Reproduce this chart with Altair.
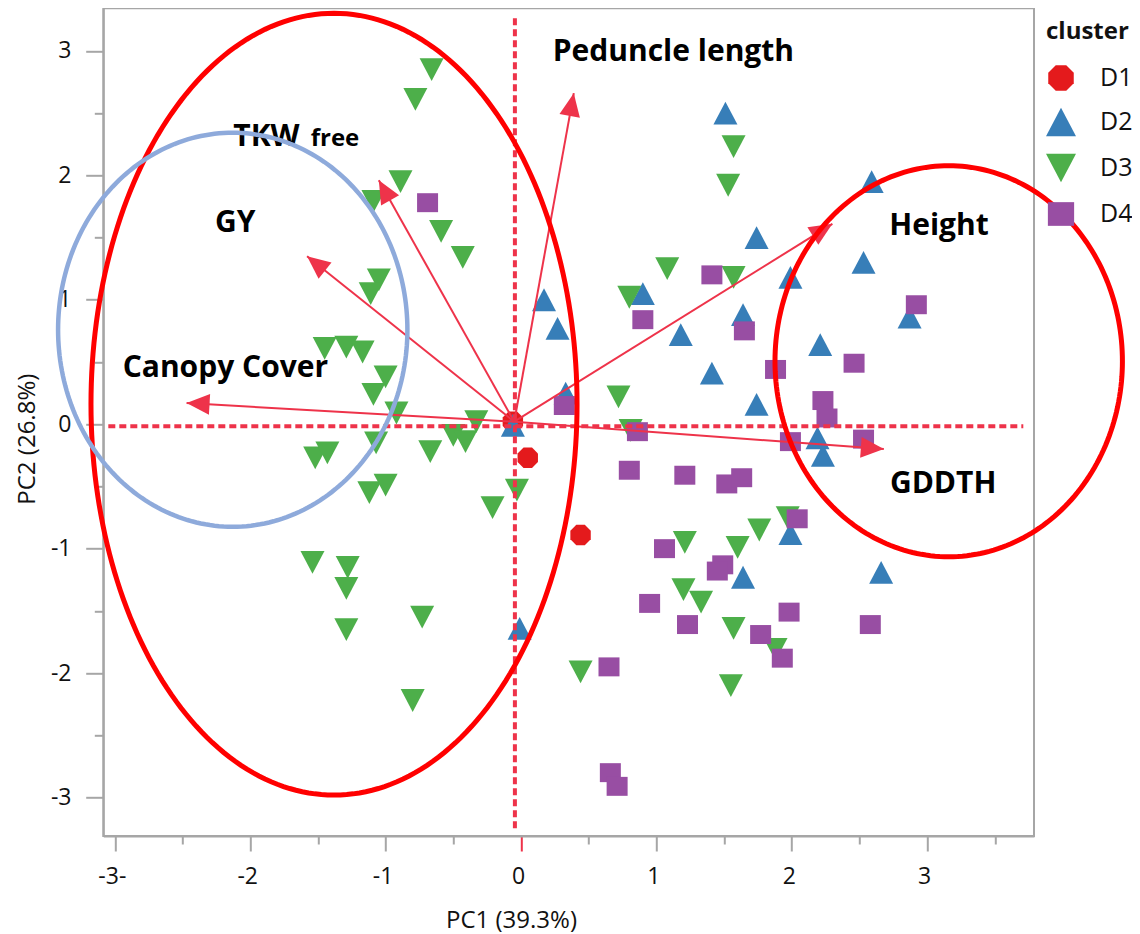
import math
import altair as alt
import numpy as np
import pandas as pd

# ---------------- data ----------------
clusters = ["D1", "D2", "D3", "D4"]

d1_pc1 = [-0.06, 0.05, 0.44]
d1_pc2 = [0.02, -0.27, -0.89]

d2_pc1 = [1.51, 2.59, 1.74, 2.53, 1.99, 0.17, 0.27, 0.90, 1.18, 1.64, 2.87,
          2.21, 1.41, 1.74, 0.33, -0.06, 2.19, 2.23, 1.99, 1.64, 2.66, -0.01]
d2_pc2 = [2.50, 1.95, 1.50, 1.30, 1.18, 1.00, 0.77, 1.05, 0.72, 0.88, 0.86,
          0.64, 0.41, 0.16, 0.25, -0.01, -0.11, -0.25, -0.88, -1.23, -1.19, -1.64]

d3_pc1 = [-0.66, -0.78, -0.89, -1.09, -0.59, -0.43, -1.05, -1.11, -1.45, -1.29,
          -1.17, -1.00, -1.09, -0.92, -1.07, -1.52, -1.43, -1.12, -1.00, -1.54,
          -1.28, -1.29, -1.29, -0.73, -0.80, -0.33, -0.50, -0.41, -0.67, -0.03,
          -0.21, 1.57, 1.53, 1.08, 0.80, 1.57, 0.72, 0.81, 1.21, 1.60,
          1.76, 1.97, 0.44, 1.20, 1.33, 1.57, 1.88, 1.55]
d3_pc2 = [2.85, 2.61, 1.95, 1.79, 1.55, 1.34, 1.16, 1.05, 0.61, 0.62,
          0.58, 0.38, 0.24, 0.09, -0.15, -0.27, -0.23, -0.55, -0.49, -1.11,
          -1.15, -1.32, -1.65, -1.55, -2.22, 0.02, -0.09, -0.14, -0.22, -0.53,
          -0.67, 2.23, 1.92, 1.25, 1.02, 1.18, 0.22, -0.05, -0.95, -0.99,
          -0.85, -0.75, -1.99, -1.33, -1.43, -1.64, -1.81, -2.10]

d4_pc1 = [-0.69, 1.41, 0.90, 1.65, 1.88, 2.46, 2.23, 2.26, 2.92, 0.32,
          0.86, 1.99, 2.53, 0.80, 1.21, 1.52, 1.63, 2.04, 1.06, 1.49,
          1.45, 0.95, 1.98, 1.23, 1.77, 2.58, 1.93, 0.65, 0.66, 0.71]
d4_pc2 = [1.78, 1.20, 0.84, 0.75, 0.44, 0.49, 0.19, 0.05, 0.96, 0.15,
          -0.06, -0.14, -0.12, -0.37, -0.41, -0.48, -0.43, -0.76, -1.00, -1.13,
          -1.18, -1.44, -1.51, -1.61, -1.69, -1.61, -1.88, -1.95, -2.80, -2.91]

# loading vectors (arrow tips) and their origin
load_names = ["Peduncle length", "TKW free", "GY", "Canopy Cover", "Height", "GDDTH"]
load_pc1 = [0.39, -1.05, -1.58, -2.47, 2.30, 2.68]
load_pc2 = [2.66, 1.96, 1.35, 0.17, 1.61, -0.20]
origin_pc1 = -0.05
origin_pc2 = 0.02

# variable labels (left edge / baseline positions in data units)
label_text = ["Peduncle length", "TKW", "GY", "Canopy Cover", "Height", "GDDTH"]
label_pc1 = [0.234, -2.125, -2.260, -2.942, 2.720, 2.725]
label_pc2 = [2.919, 2.236, 1.547, 0.377, 1.521, -0.555]
sub_text = ["free"]
sub_pc1 = [-1.553]
sub_pc2 = [2.236]

# grouping ellipses: centre and radii
ell_name = ["left", "right", "blue"]
ell_cx = [-1.381, 3.159, -2.129]
ell_cy = [0.161, 0.506, 0.759]
ell_rx = [1.795, 1.283, 1.290]
ell_ry = [3.141, 1.571, 1.583]

# dotted reference lines through the origin
ref_x1 = [-0.045, -3.048]
ref_x2 = [-0.045, 3.710]
ref_y1 = [3.262, -0.017]
ref_y2 = [-3.275, -0.017]

# ---------------- layout / style ----------------
X_DOM = [-3.085, 3.789]
Y_DOM = [-3.309, 3.342]
W, H = 930.7, 827.7
ARROW = "#EE334A"
GRAY = "#A6A6A6"
FONT = "Open Sans"
colors = ["#E41A1C", "#377EB8", "#4DAF4A", "#984EA3"]
octagon = ("M0.85,0.352L0.352,0.85L-0.352,0.85L-0.85,0.352L-0.85,-0.352"
           "L-0.352,-0.85L0.352,-0.85L0.85,-0.352Z")
shapes = [octagon,
          "M0,-0.95L1,0.95L-1,0.95Z",
          "M-1,-0.95L1,-0.95L0,0.95Z",
          "M-0.875,-0.79L0.875,-0.79L0.875,0.79L-0.875,0.79Z"]

# ---------------- tables ----------------
rows = []
for c, xs_, ys_ in zip(clusters, [d1_pc1, d2_pc1, d3_pc1, d4_pc1],
                       [d1_pc2, d2_pc2, d3_pc2, d4_pc2]):
    for a, b in zip(xs_, ys_):
        rows.append({"pc1": a, "pc2": b, "cluster": c})
df_pts = pd.DataFrame(rows)

sx = W / (X_DOM[1] - X_DOM[0])
sy = H / (Y_DOM[1] - Y_DOM[0])
df_load = pd.DataFrame({"name": load_names, "pc1": load_pc1, "pc2": load_pc2})
df_load["ox"] = origin_pc1
df_load["oy"] = origin_pc2
df_load["ang"] = [
    math.degrees(math.atan2((tx - origin_pc1) * sx, (ty - origin_pc2) * sy)) % 360
    for tx, ty in zip(load_pc1, load_pc2)
]

df_lab = pd.DataFrame({"label": label_text, "pc1": label_pc1, "pc2": label_pc2})
df_sub = pd.DataFrame({"label": sub_text, "pc1": sub_pc1, "pc2": sub_pc2})

t = np.linspace(0, 2 * np.pi, 241)
erows = []
for n, cx, cy, rx, ry in zip(ell_name, ell_cx, ell_cy, ell_rx, ell_ry):
    for i, tt in enumerate(t):
        erows.append({"grp": n, "ord": i,
                      "pc1": cx + rx * np.cos(tt), "pc2": cy + ry * np.sin(tt)})
df_ell = pd.DataFrame(erows)

df_ref = pd.DataFrame({"x1": ref_x1, "x2": ref_x2, "y1": ref_y1, "y2": ref_y2})

# ---------------- scales & axes ----------------
xsc = alt.Scale(domain=X_DOM, nice=False, zero=False)
ysc = alt.Scale(domain=Y_DOM, nice=False, zero=False)
NB = "\u00a0"

x_major = alt.Axis(
    orient="bottom", values=[-3, -2, -1, 0, 1, 2, 3], tickSize=15, tickWidth=2,
    tickColor={"condition": {"test": "datum.value === 0", "value": ARROW}, "value": GRAY},
    labelPadding=14, labelOffset=-3,
    labelExpr="datum.value == -3 ? '-3-' : (datum.value < 0 ? datum.value + '" + NB + "' : '' + datum.value)",
    title="PC1 (39.3%)", titleX=407.7, titleY=91, titleAlign="center",
    titleBaseline="alphabetic", grid=False, domain=True,
)
y_major = alt.Axis(
    orient="left", values=[-3, -2, -1, 0, 1, 2, 3], tickSize=17.6, tickWidth=2,
    labelPadding=14.7,
    labelExpr="datum.value < 0 ? datum.value + '" + NB + "' : '' + datum.value",
    title="PC2 (26.8%)", titleX=-69, titleY=430.4, titleAngle=270,
    titleAlign="center", titleBaseline="alphabetic", grid=False, domain=True,
)
x_minor = alt.Axis(orient="bottom", values=[-2.5, -1.5, -0.5, 0.5, 1.5, 2.5, 3.5],
                   tickSize=8, tickWidth=2, labels=False, title=None, grid=False, domain=False)
y_minor = alt.Axis(orient="left", values=[-2.5, -1.5, -0.5, 0.5, 1.5, 2.5],
                   tickSize=9, tickWidth=2, labels=False, title=None, grid=False, domain=False)

legend = alt.Legend(
    title="cluster", orient="none", legendX=942.7, legendY=12, symbolSize=900,
    labelOffset=24, rowPadding=16, titlePadding=18.7, titleFont=FONT,
    titleFontSize=24, titleFontWeight="bold", titleColor="#111111",
    labelFont=FONT, labelFontSize=25, labelColor="#111111", symbolStrokeWidth=0,
    padding=0,
)

points = alt.Chart(df_pts).mark_point(filled=True, size=576, opacity=1, strokeWidth=0).encode(
    x=alt.X("pc1:Q", scale=xsc, axis=x_major),
    y=alt.Y("pc2:Q", scale=ysc, axis=y_major),
    color=alt.Color("cluster:N", scale=alt.Scale(domain=clusters, range=colors), legend=legend),
    shape=alt.Shape("cluster:N", scale=alt.Scale(domain=clusters, range=shapes), legend=legend),
)

refs = alt.Chart(df_ref).mark_rule(color=ARROW, strokeWidth=4, strokeDash=[7, 4]).encode(
    x=alt.X("x1:Q", scale=xsc, axis=x_minor), x2="x2:Q",
    y=alt.Y("y1:Q", scale=ysc, axis=y_minor), y2="y2:Q",
)

arrows = alt.Chart(df_load).mark_rule(color=ARROW, strokeWidth=2).encode(
    x=alt.X("ox:Q", scale=xsc, axis=None), x2="pc1:Q",
    y=alt.Y("oy:Q", scale=ysc, axis=None), y2="pc2:Q",
)

heads = alt.Chart(df_load).mark_point(
    shape="M0,0L0.9,2L-0.9,2Z", filled=True, size=529, color=ARROW, opacity=1, strokeWidth=0
).encode(
    x=alt.X("pc1:Q", scale=xsc, axis=None),
    y=alt.Y("pc2:Q", scale=ysc, axis=None),
    angle=alt.Angle("ang:Q", scale=None),
)

labels = alt.Chart(df_lab).mark_text(
    align="left", baseline="alphabetic", font=FONT, fontSize=30, fontWeight="bold", color="#000000"
).encode(
    x=alt.X("pc1:Q", scale=xsc, axis=None),
    y=alt.Y("pc2:Q", scale=ysc, axis=None),
    text="label:N",
)
sublabels = alt.Chart(df_sub).mark_text(
    align="left", baseline="alphabetic", font=FONT, fontSize=24, fontWeight="bold", color="#000000"
).encode(
    x=alt.X("pc1:Q", scale=xsc, axis=None),
    y=alt.Y("pc2:Q", scale=ysc, axis=None),
    text="label:N",
)

ell_red = alt.Chart(df_ell).transform_filter("datum.grp != 'blue'").mark_line(
    color="#FF0000", strokeWidth=5
).encode(
    x=alt.X("pc1:Q", scale=xsc, axis=None),
    y=alt.Y("pc2:Q", scale=ysc, axis=None),
    detail="grp:N", order="ord:Q",
)
ell_blue = alt.Chart(df_ell).transform_filter("datum.grp == 'blue'").mark_line(
    color="#8EAADB", strokeWidth=4.5
).encode(
    x=alt.X("pc1:Q", scale=xsc, axis=None),
    y=alt.Y("pc2:Q", scale=ysc, axis=None),
    detail="grp:N", order="ord:Q",
)

chart = alt.layer(
    points, refs, arrows, heads, labels, sublabels, ell_red, ell_blue
).resolve_axis(
    x="independent", y="independent"
).properties(
    width=W, height=H,
    autosize=alt.AutoSizeParams(type="none"),
    padding={"left": 95.3, "top": 0.3, "right": 98, "bottom": 98},
    background="white",
).configure_axis(
    labelFont=FONT, labelFontSize=23, labelColor="#111111",
    titleFont=FONT, titleFontSize=24, titleFontWeight="normal", titleColor="#111111",
    tickColor=GRAY, domainColor=GRAY, domainWidth=2,
).configure_view(
    stroke=GRAY, strokeWidth=2,
)

chart.save("out.html", embed_options={"renderer": "svg", "actions": False})
